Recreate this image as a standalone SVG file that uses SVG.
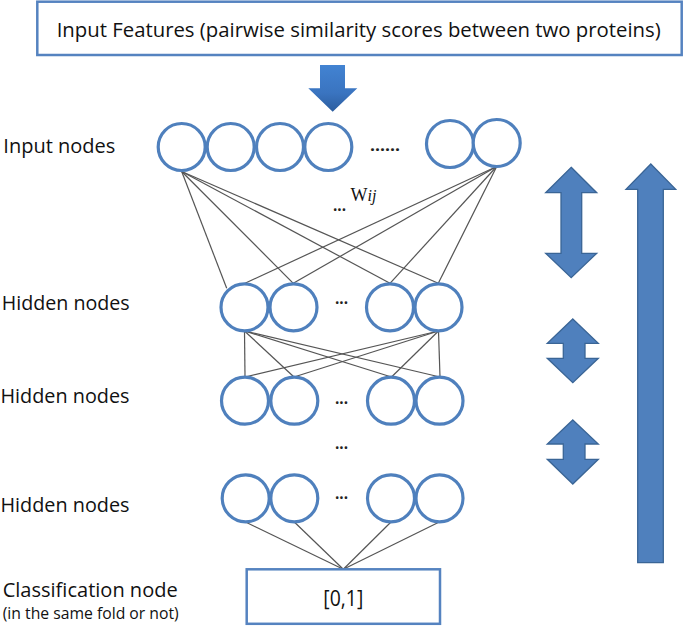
<svg xmlns="http://www.w3.org/2000/svg" width="685" height="628" viewBox="0 0 685 628">
<defs>
<linearGradient id="dg" x1="0" y1="0" x2="0" y2="1">
<stop offset="0" stop-color="#4283d2"/>
<stop offset="0.6" stop-color="#3a74c0"/>
<stop offset="1" stop-color="#2c5d9e"/>
</linearGradient>
</defs>
<style>
.lbl{font-family:"Open Sans","Noto Sans","Liberation Sans",sans-serif;font-size:20px;fill:#111}
.sm{font-family:"Open Sans","Noto Sans","Liberation Sans",sans-serif;font-size:16px;fill:#111}
.dots{font-family:"Open Sans","Liberation Sans",sans-serif;font-size:16px;font-weight:bold;fill:#222}
.box{fill:#fff;stroke:#5583c0;stroke-width:2.5}
.n{fill:#fff;stroke:#4f80bd;stroke-width:3.2}
.c line{stroke:#555;stroke-width:1.2}
.ar{fill:#4f80bd;stroke:#3a6596;stroke-width:1.3}
</style>
<rect width="685" height="628" fill="#fff"/>

<g id="input-features">
<rect class="box" x="37.3" y="1.7" width="644.4" height="53.3"/>
<text class="lbl" x="56.7" y="37.3" textLength="604" lengthAdjust="spacingAndGlyphs">Input Features (pairwise similarity scores between two proteins)</text>
</g>
<g id="feed-arrow">
<polygon points="320,65 345,65 345,88.3 357.3,88.3 332.7,111.7 308.3,88.3 320,88.3" fill="url(#dg)"/>
</g>

<g id="labels">
<text class="lbl" x="3.3" y="153.3" textLength="112" lengthAdjust="spacingAndGlyphs">Input nodes</text>
<text class="lbl" x="1.7" y="310" textLength="128" lengthAdjust="spacingAndGlyphs">Hidden nodes</text>
<text class="lbl" x="0.5" y="402.7" textLength="129" lengthAdjust="spacingAndGlyphs">Hidden nodes</text>
<text class="lbl" x="0.5" y="511.7" textLength="129" lengthAdjust="spacingAndGlyphs">Hidden nodes</text>
<text class="lbl" x="2.7" y="596.7" textLength="175" lengthAdjust="spacingAndGlyphs">Classification node</text>
<text class="sm" x="2.7" y="618.5" textLength="176" lengthAdjust="spacingAndGlyphs">(in the same fold or not)</text>
</g>

<g id="connectors" class="c">
<line x1="181.7" y1="171.5" x2="226.7" y2="288.3"/>
<line x1="181.7" y1="171.5" x2="293.3" y2="283.3"/>
<line x1="181.7" y1="171.5" x2="390" y2="283.3"/>
<line x1="181.7" y1="171.5" x2="438.3" y2="283.3"/>
<line x1="496.7" y1="166.5" x2="245" y2="283.3"/>
<line x1="496.7" y1="166.5" x2="293.3" y2="283.3"/>
<line x1="496.7" y1="166.5" x2="390" y2="283.3"/>
<line x1="496.7" y1="166.5" x2="438.3" y2="283.3"/>
<line x1="244.5" y1="331" x2="245" y2="377"/>
<line x1="244.5" y1="331" x2="294" y2="377"/>
<line x1="244.5" y1="331" x2="391.5" y2="377"/>
<line x1="244.5" y1="331" x2="440" y2="377"/>
<line x1="438.5" y1="331" x2="245" y2="377"/>
<line x1="438.5" y1="331" x2="294" y2="377"/>
<line x1="438.5" y1="331" x2="391.5" y2="377"/>
<line x1="438.5" y1="331" x2="440" y2="377"/>
<line x1="245.5" y1="522" x2="343.3" y2="569.3"/>
<line x1="294.3" y1="522" x2="343.3" y2="569.3"/>
<line x1="391" y1="522" x2="343.3" y2="569.3"/>
<line x1="439.3" y1="522" x2="343.3" y2="569.3"/>
</g>

<g id="input-nodes">
<circle class="n" cx="181.7" cy="147" r="23.5"/>
<circle class="n" cx="230.7" cy="147" r="23.5"/>
<circle class="n" cx="280" cy="147" r="23.5"/>
<circle class="n" cx="328.3" cy="147" r="23.5"/>
<circle class="n" cx="450" cy="144" r="23.5"/>
<circle class="n" cx="496.7" cy="143" r="23.5"/>
<text class="dots" x="370" y="151" textLength="30" lengthAdjust="spacingAndGlyphs">......</text>
</g>

<g id="weight-label">
<text class="dots" x="333" y="211" textLength="13" lengthAdjust="spacingAndGlyphs">...</text>
<text x="350.5" y="201" style="font-family:'Liberation Serif','Times New Roman',serif;font-size:18px;fill:#111">W<tspan font-style="italic" font-size="16">ij</tspan></text>
</g>

<g id="hidden-1">
<circle class="n" cx="244.5" cy="307.3" r="23.5"/>
<circle class="n" cx="293.5" cy="307.3" r="23.5"/>
<circle class="n" cx="390" cy="307.3" r="23.5"/>
<circle class="n" cx="438.5" cy="307.3" r="23.5"/>
<text class="dots" x="335" y="304" textLength="13" lengthAdjust="spacingAndGlyphs">...</text>
</g>

<g id="hidden-2">
<circle class="n" cx="245" cy="400.7" r="23.5"/>
<circle class="n" cx="294.3" cy="400.7" r="23.5"/>
<circle class="n" cx="391" cy="400.7" r="23.5"/>
<circle class="n" cx="439.5" cy="400.7" r="23.5"/>
<text class="dots" x="335" y="404" textLength="13" lengthAdjust="spacingAndGlyphs">...</text>
</g>

<text class="dots" x="335" y="448.5" textLength="13" lengthAdjust="spacingAndGlyphs">...</text>

<g id="hidden-3">
<circle class="n" cx="245.7" cy="498.3" r="23.5"/>
<circle class="n" cx="294.3" cy="498.3" r="23.5"/>
<circle class="n" cx="391" cy="498.3" r="23.5"/>
<circle class="n" cx="439.5" cy="498.3" r="23.5"/>
<text class="dots" x="335" y="498.5" textLength="13" lengthAdjust="spacingAndGlyphs">...</text>
</g>

<g id="classification-node">
<rect class="box" x="246.7" y="569.3" width="193.3" height="54.5"/>
<text class="lbl" x="343.3" y="606" text-anchor="middle" style="font-size:21px" textLength="40" lengthAdjust="spacingAndGlyphs">[0,1]</text>
</g>

<g id="side-arrows">
<polygon class="ar" points="571.2,167.3 596.7,192.7 581.7,192.7 581.7,253.3 596.7,253.3 571.2,277.7 545.7,253.3 561,253.3 561,192.7 545.7,192.7"/>
<polygon class="ar" points="572.8,319 598.3,343.3 585,343.3 585,358.3 598.3,358.3 572.8,382.7 547.3,358.3 563.3,358.3 563.3,343.3 547.3,343.3"/>
<polygon class="ar" points="572.8,420 598.3,444 585,444 585,459.3 598.3,459.3 572.8,484 547.3,459.3 563.3,459.3 563.3,444 547.3,444"/>
<polygon class="ar" points="650.8,164 675.7,189.3 663.3,189.3 663.3,562.7 637.7,562.7 637.7,189.3 626,189.3"/>
</g>
</svg>
